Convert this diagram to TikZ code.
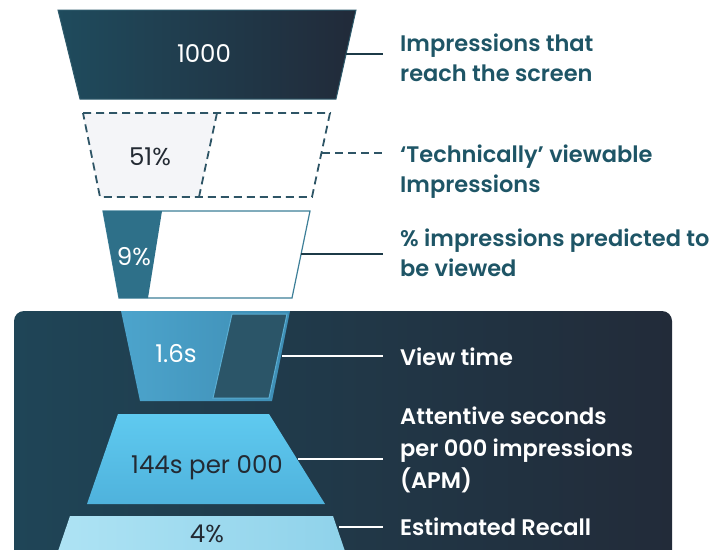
\documentclass[tikz,border=0pt]{standalone}
\usepackage{fontspec}
\setmainfont{Poppins}
\newfontfamily\lblfont{Poppins SemiBold}
\definecolor{topL}{HTML}{1F4B5D}
\definecolor{topR}{HTML}{212A39}
\definecolor{topB}{HTML}{2E5A6B}
\definecolor{dash}{HTML}{2E5566}
\definecolor{greyfill}{HTML}{F4F5F8}
\definecolor{tealfill}{HTML}{2E7089}
\definecolor{tealline}{HTML}{3D7F98}
\definecolor{darkline}{HTML}{1C3A47}
\definecolor{tealtext}{HTML}{1E5566}
\definecolor{numdark}{HTML}{232A33}
\definecolor{boxL}{HTML}{1F4557}
\definecolor{boxR}{HTML}{222B39}
\definecolor{midL}{HTML}{4CA4CC}
\definecolor{midR}{HTML}{3E8DB4}
\definecolor{innerF}{HTML}{2B5568}
\definecolor{innerB}{HTML}{5AAED3}
\definecolor{apmT}{HTML}{5FCAF0}
\definecolor{apmB}{HTML}{4FB2DC}
\definecolor{recL}{HTML}{AEE3F4}
\definecolor{recR}{HTML}{8FD2EA}
\begin{document}
\begin{tikzpicture}[x=1pt,y=-1pt,
  lbl/.style={anchor=west, align=left, inner sep=0pt, font=\lblfont\fontsize{22.5}{30}\selectfont},
  num/.style={inner sep=0pt, font=\fontsize{24.5}{28}\selectfont},
  conn/.style={line width=1.6pt},
  dashln/.style={draw=dash, line width=1.8pt, dash pattern=on 8pt off 5pt}]
\useasboundingbox (0,0) rectangle (723,549);
\clip (0,0) rectangle (723,549);
% stage 1
\path[left color=topL, right color=topR, draw=topB, line width=1pt]
  (58,10) -- (356,10) -- (336,99) -- (80,99) -- cycle;
\node[num, text=white] (n1) at (204,54) {1000};
\coordinate (c1a) at (346,54); \coordinate (c1b) at (383,54);
\draw[conn, draw=darkline] (c1a) -- (c1b);
\node[lbl, text=tealtext] (l1) at (400,58) {Impressions that\\reach the screen};
% stage 2
\fill[greyfill] (83,113) -- (217,113) -- (199,197) -- (100,197) -- cycle;
\draw[dashln] (83,113) -- (330,113) -- (312,197) -- (100,197) -- cycle;
\draw[dashln] (217,113) -- (199,197);
\node[num, text=numdark] (n2) at (150,157) {51\%};
\coordinate (c2a) at (322,153); \coordinate (c2b) at (383,153);
\draw[dashln] (c2a) -- (c2b);
\node[lbl, text=tealtext] (l2) at (400,172) {‘Technically’ viewable\\Impressions};
% stage 3
\path[fill=white, draw=tealline, line width=1.2pt]
  (103,211) -- (310,211) -- (292,298) -- (119,298) -- cycle;
\fill[tealfill] (103,211) -- (162,211) -- (148,298) -- (119,298) -- cycle;
\node[num, text=white] (n3) at (134,257) {9\%};
\coordinate (c3a) at (301,254); \coordinate (c3b) at (383,254);
\draw[conn, draw=darkline] (c3a) -- (c3b);
\node[lbl, text=tealtext] (l3) at (400,253) {\% impressions predicted to\\be viewed};
% dark panel
\path[rounded corners=10pt, left color=boxL, right color=boxR]
  (14,311) rectangle (672,580);
% stage 4
\path[left color=midL, right color=midR]
  (121,311) -- (290,311) -- (272,401) -- (140,401) -- cycle;
\path[fill=innerF, draw=innerB, line width=1pt]
  (232,314) -- (287,314) -- (269,398) -- (213,398) -- cycle;
\node[num, text=white] (n4) at (176,354) {1.6s};
\coordinate (c4a) at (282,356); \coordinate (c4b) at (383,356);
\draw[conn, draw=white] (c4a) -- (c4b);
\node[lbl, text=white] (l4) at (400,357) {View time};
% stage 5
\path[top color=apmT, bottom color=apmB]
  (118,414) -- (269,414) -- (325,504) -- (87,504) -- cycle;
\node[num, text=numdark] (n5) at (207,468) {144s per 000};
\coordinate (c5a) at (298,459); \coordinate (c5b) at (383,459);
\draw[conn, draw=white] (c5a) -- (c5b);
\node[lbl, text=white, font=\lblfont\fontsize{22.5}{32}\selectfont] (l5) at (400,450) {Attentive seconds\\per 000 impressions\\(APM)};
% stage 6
\path[left color=recL, right color=recR]
  (70,516) -- (333,516) -- (348,560) -- (55,560) -- cycle;
\node[num, text=numdark, anchor=base, text depth=0pt] (n6) at (207,542) {4\%};
\coordinate (c6a) at (339,527); \coordinate (c6b) at (383,527);
\draw[conn, draw=white] (c6a) -- (c6b);
\node[lbl, text=white] (l6) at (400,527) {Estimated Recall};
\end{tikzpicture}
\end{document}
